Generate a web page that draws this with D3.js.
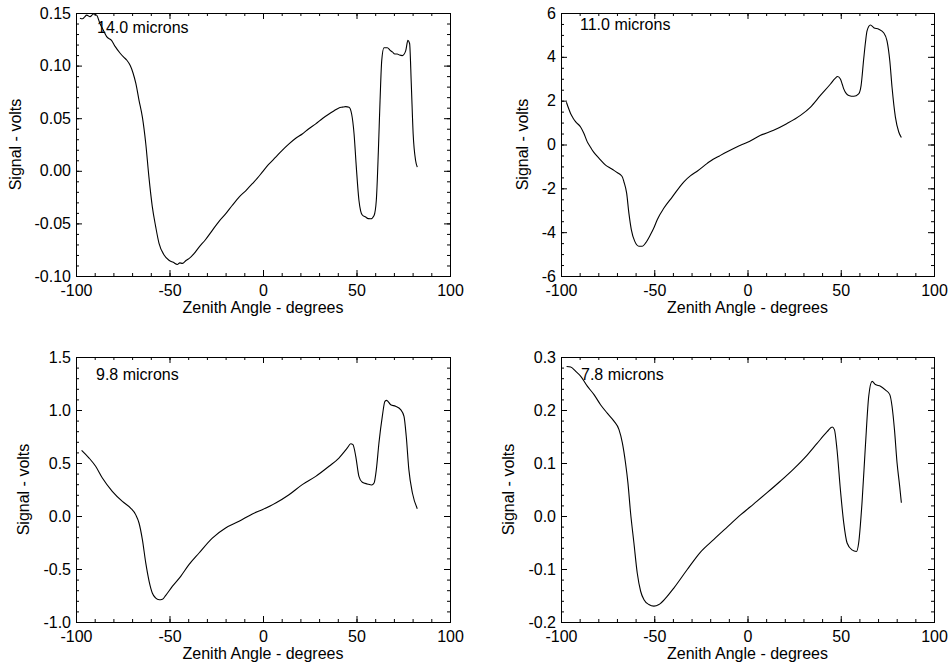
<!DOCTYPE html>
<html>
<head>
<meta charset="utf-8">
<script src="https://cdn.jsdelivr.net/npm/d3@7"></script>
<style>
  html, body { margin: 0; padding: 0; background: #fff; }
  svg { display: block; }
  text { font-family: "Liberation Sans", Arial, Helvetica, sans-serif; fill: #000; }
</style>
</head>
<body>
<svg id="chart" width="948" height="662"></svg>
<script>
// Data (zenith angle in degrees, signal in volts)
const xTickValues = [-100, -50, 0, 50, 100];
const xDomain = [-100, 100];
const xMinorStep = 10;

const panelLabels = ['14.0 microns', '11.0 microns', '9.8 microns', '7.8 microns'];
const yDomains = [[-0.10, 0.15], [-6, 6], [-1.0, 1.5], [-0.2, 0.3]];
const yMajorSteps = [0.05, 2, 0.5, 0.1];
const yMinorSteps = [0.01, 0.5, 0.1, 0.02];
const yFormats = ['.2f', 'd', '.1f', '.1f'];

const series14 = [
  [-97.9,0.145],[-96.5,0.1445],[-95.5,0.146],[-94.3,0.148],[-92.5,0.1465],[-90.7,0.149],[-89,0.148],
  [-87.2,0.140],[-85.5,0.134],[-83.6,0.1275],[-81,0.124],[-79,0.118],[-76.5,0.112],[-74.5,0.108],
  [-72.9,0.1053],[-71,0.100],[-69.5,0.093],[-68,0.083],[-66.3,0.067],[-64.5,0.051],[-62.7,0.026],
  [-61,-0.006],[-59.2,-0.034],[-57.4,-0.053],[-55.6,-0.069],[-52.9,-0.080],[-50.3,-0.085],[-48,-0.087],
  [-45.8,-0.089],[-44.5,-0.0875],[-43.1,-0.088],[-41,-0.085],[-39.6,-0.0835],[-37,-0.079],[-34.2,-0.0725],
  [-31,-0.066],[-27.1,-0.0566],[-23.5,-0.048],[-20,-0.041],[-16.5,-0.033],[-12.8,-0.025],[-9,-0.0185],
  [-5.7,-0.0123],[-3,-0.007],[-0.4,-0.0013],[3,0.006],[6.8,0.013],[10,0.019],[13.9,0.0256],[17.5,0.031],
  [21,0.035],[24.5,0.040],[28.2,0.0446],[32,0.050],[35.3,0.054],[38,0.057],[40.6,0.0598],[42.5,0.0605],
  [44.2,0.061],[46,0.0604],[47.4,0.054],[48.7,0.035],[49.9,0.0035],[51.3,-0.028],[52.2,-0.038],[53.1,-0.042],
  [54.9,-0.044],[56.3,-0.0455],[57.6,-0.0456],[59.4,-0.0424],[60.6,-0.028],[61.7,0.019],[62.6,0.067],
  [63.5,0.105],[64.7,0.117],[66.5,0.117],[68,0.1145],[69.2,0.113],[70.5,0.111],[71.8,0.111],[73,0.110],
  [74.5,0.1095],[76.3,0.114],[77.5,0.124],[78.4,0.121],[79.3,0.0826],[80.3,0.035],[81.6,0.0098],[82.5,0.0035]
];

const series11 = [
  [-97.1,1.93],[-95.8,1.62],[-94.8,1.40],[-93.5,1.2],[-92.1,1.03],[-89.5,0.80],[-87.7,0.50],[-85.9,0.12],
  [-84.5,-0.08],[-83.2,-0.26],[-81.5,-0.45],[-79.6,-0.63],[-76.1,-0.94],[-73.5,-1.08],[-71.6,-1.18],
  [-69.5,-1.30],[-68,-1.39],[-67,-1.5],[-66.3,-1.69],[-64.8,-2.22],[-63.6,-3.13],[-62.3,-3.88],[-60.5,-4.41],
  [-58.2,-4.64],[-56.4,-4.64],[-54.6,-4.49],[-52,-4.11],[-50,-3.76],[-48.4,-3.43],[-44.8,-2.9],[-40.4,-2.4],
  [-34.1,-1.7],[-30.5,-1.42],[-27,-1.22],[-21.6,-0.86],[-19.8,-0.75],[-15,-0.52],[-10.9,-0.33],[-5.5,-0.1],
  [0,0.1],[7,0.42],[14,0.65],[21,0.95],[28.4,1.33],[33.8,1.71],[39.1,2.24],[44.5,2.76],[47,3.02],[48.3,3.1],
  [49.8,2.99],[50.8,2.75],[51.6,2.54],[53,2.32],[54.3,2.24],[57,2.2],[59.6,2.31],[60.9,2.69],[62.3,3.9],
  [63.3,4.7],[64.1,5.18],[65.9,5.45],[67.7,5.33],[70.4,5.26],[73,5.1],[74.8,4.73],[76.3,3.82],[77.5,2.61],
  [79.3,1.25],[81.1,0.57],[82.5,0.32]
];

const series98 = [
  [-97,0.62],[-93,0.547],[-89.5,0.469],[-85.9,0.358],[-80.6,0.233],[-75.2,0.138],[-70.8,0.075],[-68.1,0.013],
  [-66.3,-0.066],[-64.5,-0.223],[-62.7,-0.443],[-60.9,-0.616],[-59.2,-0.726],[-57.5,-0.772],[-55.5,-0.79],
  [-53.8,-0.785],[-52,-0.748],[-48.5,-0.664],[-44,-0.569],[-39.6,-0.459],[-34.2,-0.349],[-27.1,-0.208],
  [-20,-0.113],[-12.8,-0.050],[-5.7,0.019],[-0.4,0.060],[6.8,0.123],[13.9,0.201],[21,0.296],[28.2,0.374],
  [35.3,0.469],[40.6,0.547],[45.1,0.642],[46.9,0.682],[48.1,0.673],[49.6,0.563],[51.3,0.374],[53.1,0.318],
  [55.8,0.302],[58.1,0.292],[59.4,0.311],[60.6,0.437],[62,0.689],[63.8,0.940],[65.2,1.082],[66.1,1.091],
  [68.3,1.050],[70.9,1.035],[73.6,1.003],[75.4,0.940],[76.6,0.752],[78,0.437],[79.9,0.217],[82.5,0.069]
];

const series78 = [
  [-97,0.282],[-94.8,0.281],[-92.1,0.273],[-89.5,0.264],[-85.9,0.245],[-82.3,0.229],[-78.8,0.210],
  [-75.2,0.194],[-71.6,0.179],[-68.9,0.163],[-67.1,0.138],[-65.4,0.100],[-64.1,0.062],[-62.7,0.006],
  [-60.9,-0.051],[-59.1,-0.108],[-57.3,-0.142],[-55.5,-0.158],[-52.9,-0.167],[-50.2,-0.170],[-47.5,-0.167],
  [-43.9,-0.155],[-39.5,-0.136],[-32.3,-0.101],[-25.2,-0.068],[-18,-0.044],[-10.9,-0.021],[-3.75,0.002],
  [3.4,0.023],[10.5,0.044],[17.7,0.066],[24.8,0.089],[32,0.115],[37.3,0.137],[42.7,0.159],[45.4,0.168],
  [46.6,0.163],[48,0.125],[49.8,0.050],[51.6,-0.013],[53.4,-0.051],[56,-0.064],[58.4,-0.067],[59.6,-0.051],
  [61.4,0.025],[63.2,0.131],[65,0.226],[66.8,0.254],[68.6,0.248],[71.3,0.245],[73.9,0.238],[76.3,0.229],
  [77.5,0.207],[78.8,0.163],[80.2,0.100],[81.6,0.056],[82.5,0.025]
];

const allSeries = [series14, series11, series98, series78];

// Layout of the 2x2 grid
const boxes = [
  { left: 76,  right: 450, top: 13,  bottom: 276, labelX: 97,  labelY: 33 },
  { left: 561, right: 934, top: 13,  bottom: 276, labelX: 580, labelY: 30 },
  { left: 76,  right: 450, top: 357, bottom: 622, labelX: 96,  labelY: 380 },
  { left: 561, right: 934, top: 357, bottom: 622, labelX: 581, labelY: 380 }
];

const svg = d3.select('#chart');
const fmtMinus = f => v => d3.format(f)(v).replace('\u2212', '-');

boxes.forEach((b, i) => {
  const x = d3.scaleLinear().domain(xDomain).range([b.left, b.right]);
  const y = d3.scaleLinear().domain(yDomains[i]).range([b.bottom, b.top]);
  const [y0, y1] = yDomains[i];
  const yMajor = d3.range(y0, y1 + yMajorSteps[i] / 2, yMajorSteps[i]);
  const yMinor = d3.range(y0, y1 + yMinorSteps[i] / 2, yMinorSteps[i]);
  const xMinor = d3.range(xDomain[0], xDomain[1] + 1, xMinorStep);
  const g = svg.append('g');
  const w = b.right - b.left, h = b.bottom - b.top;

  // axes with inward ticks on all four sides
  g.append('g').attr('transform', `translate(0,${b.bottom})`)
    .call(d3.axisBottom(x).tickValues(xTickValues).tickSize(-6).tickPadding(9).tickFormat(fmtMinus('d')));
  g.append('g').attr('transform', `translate(0,${b.bottom})`)
    .call(d3.axisBottom(x).tickValues(xMinor).tickSize(-3).tickFormat(''));
  g.append('g').attr('transform', `translate(0,${b.top})`)
    .call(d3.axisTop(x).tickValues(xTickValues).tickSize(-6).tickFormat(''));
  g.append('g').attr('transform', `translate(0,${b.top})`)
    .call(d3.axisTop(x).tickValues(xMinor).tickSize(-3).tickFormat(''));

  const yAx = g.append('g').attr('transform', `translate(${b.left},0)`)
    .call(d3.axisLeft(y).tickValues(yMajor).tickSize(-6).tickPadding(5).tickFormat(fmtMinus(yFormats[i])));
  g.append('g').attr('transform', `translate(${b.left},0)`)
    .call(d3.axisLeft(y).tickValues(yMinor).tickSize(-3).tickFormat(''));
  g.append('g').attr('transform', `translate(${b.right},0)`)
    .call(d3.axisRight(y).tickValues(yMajor).tickSize(-6).tickFormat(''));
  g.append('g').attr('transform', `translate(${b.right},0)`)
    .call(d3.axisRight(y).tickValues(yMinor).tickSize(-3).tickFormat(''));

  g.selectAll('.domain').attr('stroke', '#000');
  g.selectAll('.tick line').attr('stroke', '#000');
  g.selectAll('.tick text').style('font-size', '16px').attr('fill', '#000');

  // x axis title
  g.append('text')
    .attr('x', (b.left + b.right) / 2)
    .attr('y', b.bottom + 37)
    .attr('text-anchor', 'middle')
    .style('font-size', '16px')
    .text('Zenith Angle - degrees');

  // y axis title, placed left of the widest tick label
  let minX = b.left;
  yAx.selectAll('.tick text').each(function () {
    const bb = this.getBBox();
    const m = this.parentNode.transform.baseVal.consolidate();
    const tx = m ? m.matrix.e : 0;
    minX = Math.min(minX, b.left + tx + bb.x);
  });
  g.append('text')
    .attr('transform', `translate(${minX - 14},${(b.top + b.bottom) / 2}) rotate(-90)`)
    .attr('text-anchor', 'middle')
    .style('font-size', '16px')
    .text('Signal - volts');

  // curve
  const clipId = 'clip' + i;
  svg.append('clipPath').attr('id', clipId)
    .append('rect').attr('x', b.left).attr('y', b.top).attr('width', w).attr('height', h);

  const line = d3.line()
    .x(d => x(d[0]))
    .y(d => y(d[1]))
    .curve(d3.curveMonotoneX);

  g.append('path')
    .datum(allSeries[i])
    .attr('clip-path', `url(#${clipId})`)
    .attr('fill', 'none')
    .attr('stroke', '#000')
    .attr('stroke-width', 1.1)
    .attr('d', line);

  g.append('text')
    .attr('x', b.labelX)
    .attr('y', b.labelY)
    .style('font-size', '16px')
    .text(panelLabels[i]);
});
</script>
</body>
</html>
